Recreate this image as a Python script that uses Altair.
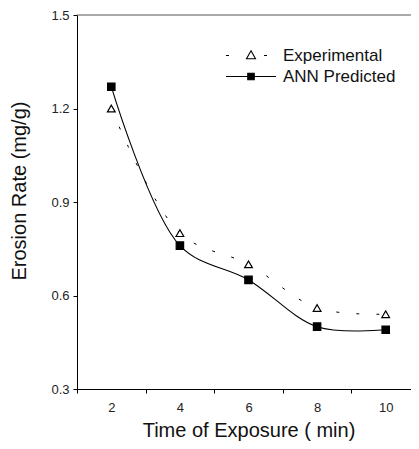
import altair as alt
import pandas as pd

time_min = [2, 4, 6, 8, 10]
experimental = [1.20, 0.80, 0.70, 0.56, 0.54]
ann_predicted = [1.27, 0.76, 0.65, 0.50, 0.49]
series_names = ["Experimental", "ANN Predicted"]
y_ticks = [0.3, 0.6, 0.9, 1.2, 1.5]

rows = []
for name, vals in zip(series_names, [experimental, ann_predicted]):
    for t, v in zip(time_min, vals):
        rows.append({"time": t, "rate": v, "series": name})
df = pd.DataFrame(rows)
exp_df = df[df["series"] == series_names[0]]
ann_df = df[df["series"] == series_names[1]]
top_df = pd.DataFrame({"top": [y_ticks[-1]]})
legend_df = pd.DataFrame({"series": pd.Series([], dtype=str)})

FONT = "Liberation Sans"

# legend glyphs: line sample with marker in the middle (unit box -1..1)
LEGEND_EXP = "M-1,0H-0.88M0.52,0H0.64M0,-0.19L0.18,0.13L-0.18,0.13Z"
LEGEND_ANN = "M-1,0H1M-0.13,-0.13H0.13V0.13H-0.13Z"

x_enc = alt.X(
    "time:O",
    scale=alt.Scale(type="band", paddingInner=0, paddingOuter=0, range=[0, 343]),
    bandPosition=0.5,
    axis=alt.Axis(
        title="Time of Exposure ( min)",
        labelAngle=0,
        tickBand="extent",
        tickSize=4,
        labelPadding=8,
        titlePadding=6,
        titleFontSize=20,
        titleFontWeight="normal",
        labelFontSize=13,
    ),
)

y_scale = alt.Scale(domain=[0.3, 1.5], nice=False, zero=False)
y_enc = alt.Y(
    "rate:Q",
    scale=y_scale,
    axis=alt.Axis(
        title="Erosion Rate (mg/g)",
        values=y_ticks,
        format=".1f",
        tickSize=4,
        labelPadding=4,
        titleFontSize=20,
        titleFontWeight="normal",
        labelFontSize=13,
        titleAngle=-90,
        titleAlign="left",
        titleBaseline="middle",
        titleX=-58,
        titleY=265,
    ),
)

exp_line = alt.Chart(exp_df).mark_line(
    interpolate="catmull-rom", color="black", strokeWidth=1.0, strokeDash=[3, 17]
).encode(x=x_enc, y=y_enc)

ann_line = alt.Chart(ann_df).mark_line(
    interpolate="catmull-rom", color="black", strokeWidth=1.1
).encode(x=x_enc, y=y_enc)

tri = alt.Chart(exp_df).mark_point(
    shape="triangle-up", filled=True, fill="white", stroke="black",
    strokeWidth=1.2, opacity=1, size=60,
).encode(x=x_enc, y=y_enc)

sq = alt.Chart(ann_df).mark_point(
    shape="square", filled=True, fill="black", stroke="black",
    strokeWidth=1.2, opacity=1, size=55,
).encode(x=x_enc, y=y_enc)

leg = alt.Legend(
    title=None,
    orient="none",
    legendX=148,
    legendY=30,
    symbolSize=2500,
    symbolStrokeWidth=1.1,
    symbolStrokeColor="black",
    symbolOpacity=1,
    clipHeight=21,
    rowPadding=0,
    labelFontSize=17,
    labelFont=FONT,
    labelColor="#111",
    labelOffset=6,
    padding=0,
)

legend_layer = alt.Chart(legend_df).mark_point(
    filled=True, stroke="black", strokeWidth=1.1, opacity=1, size=2500
).encode(
    shape=alt.Shape(
        "series:N",
        sort=series_names,
        scale=alt.Scale(domain=series_names, range=[LEGEND_EXP, LEGEND_ANN]),
        legend=leg,
    ),
    fill=alt.Fill(
        "series:N",
        sort=series_names,
        scale=alt.Scale(domain=series_names, range=["white", "black"]),
        legend=leg,
    ),
    stroke=alt.Stroke(
        "series:N",
        sort=series_names,
        scale=alt.Scale(domain=series_names, range=["black", "black"]),
        legend=leg,
    ),
)

top_frame = alt.Chart(top_df).mark_rule(color="#555", strokeWidth=1).encode(
    y=alt.Y("top:Q", scale=y_scale),
    x=alt.value(0),
    x2=alt.value(343),
)

chart = (
    alt.layer(exp_line, ann_line, tri, sq, top_frame, legend_layer)
    .properties(
        width=334,
        height=374,
        autosize=alt.AutoSizeParams(type="none"),
        padding={"left": 69, "top": 7, "right": 0, "bottom": 52},
    )
    .configure(font=FONT)
    .configure_view(stroke=None)
    .configure_axis(
        grid=False,
        domainColor="black",
        domainWidth=1,
        tickColor="black",
        tickWidth=1,
        labelColor="#222",
        titleColor="#111",
        labelFont=FONT,
        titleFont=FONT,
    )
)

chart.save("out.html", embed_options={"renderer": "svg", "actions": False})
